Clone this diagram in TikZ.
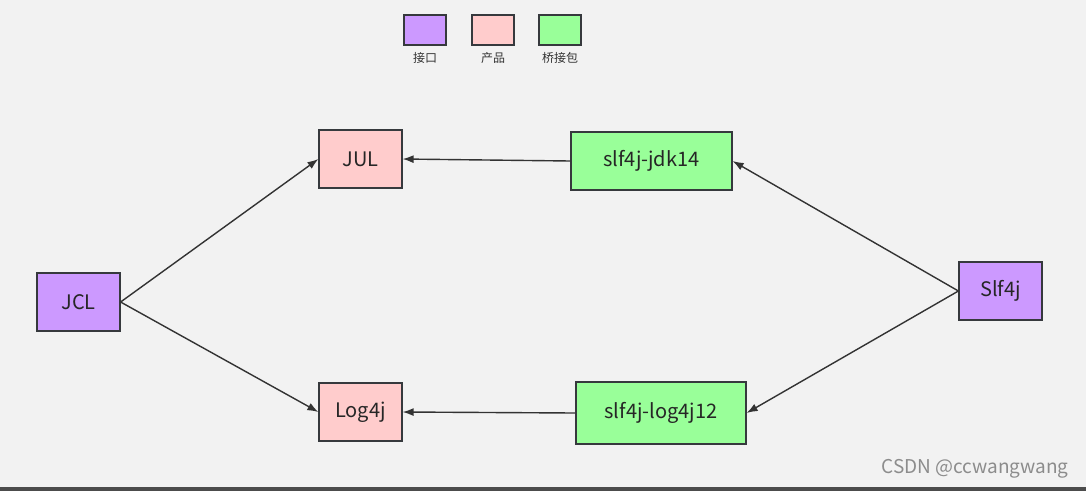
\documentclass[tikz,border=0pt]{standalone}
\usepackage{fontspec}
\setmainfont{Noto Sans CJK SC}
\usetikzlibrary{arrows.meta}
\definecolor{bg}{HTML}{F2F2F2}
\definecolor{ifc}{HTML}{CC99FF}
\definecolor{prod}{HTML}{FFCCCC}
\definecolor{brg}{HTML}{99FF99}
\definecolor{edge}{HTML}{36393D}
\definecolor{arr}{HTML}{333333}
\begin{document}
\begin{tikzpicture}[x=1pt,y=-1pt,
  box/.style={draw=edge,line width=1.2pt,inner sep=0pt,font=\fontsize{20}{24}\selectfont,text=black!85},
  legbox/.style={draw=edge,line width=1.2pt,minimum width=42pt,minimum height=30pt,inner sep=0pt},
  leglabel/.style={font=\fontsize{12}{14}\selectfont,text=black!80},
  conn/.style={draw=arr,line width=1.4pt,-{Latex[length=11pt,width=8pt]}}]
\fill[bg] (0,0) rectangle (1086,491);
\useasboundingbox (0,0) rectangle (1086,491);
\fill[black!70] (0,487) rectangle (1086,491);
% legend
\node[legbox,fill=ifc] (l1) at (425,30) {};
\node[legbox,fill=prod] (l2) at (493,30) {};
\node[legbox,fill=brg] (l3) at (560,30) {};
\node[leglabel] (t1) at (425,58) {接口};
\node[leglabel] (t2) at (493,58) {产品};
\node[leglabel] (t3) at (560,58) {桥接包};
% nodes
\node[box,fill=prod,minimum width=83pt,minimum height=58pt] (jul) at (360.5,159) {JUL};
\node[box,fill=brg,minimum width=161pt,minimum height=58pt] (jdk) at (651.5,161) {slf4j-jdk14};
\node[box,fill=ifc,minimum width=83pt,minimum height=58pt] (jcl) at (78.5,302) {JCL};
\node[box,fill=ifc,minimum width=83pt,minimum height=58pt] (slf) at (1000.5,291) {Slf4j};
\node[box,fill=prod,minimum width=83pt,minimum height=58pt] (log) at (360.5,412) {Log4j};
\node[box,fill=brg,minimum width=170pt,minimum height=62pt] (l12) at (661,413) {slf4j-log4j12};
% connectors
\draw[conn] (jcl.east) -- (jul.west);
\draw[conn] (jcl.east) -- (log.west);
\draw[conn] (jdk.west) -- (jul.east);
\draw[conn] (l12.west) -- (log.east);
\draw[conn] (slf.west) -- (jdk.east);
\draw[conn] (slf.west) -- (l12.east);
% watermark
\node[font=\fontsize{19}{22}\selectfont,text=black!45,anchor=east] (wm) at (1072,469) {CSDN @ccwangwang};
\end{tikzpicture}
\end{document}
